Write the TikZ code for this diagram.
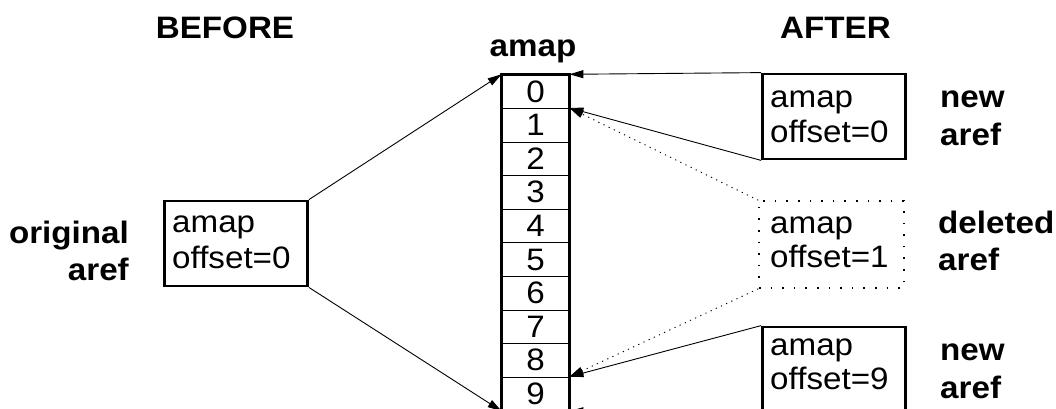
\documentclass[tikz,border=0pt]{standalone}
\usepackage{fontspec}
\setmainfont{Liberation Sans}[FakeStretch=1.07]
\usetikzlibrary{arrows.meta}

\begin{document}
\begin{tikzpicture}[x=1pt,y=-1pt,
  txt/.style={font=\fontsize{31}{35}\selectfont, inner sep=0pt, anchor=base west},
  lbl/.style={font=\fontsize{31}{38}\selectfont\bfseries, inner sep=0pt},
  cell/.style={draw, line width=0.8pt, minimum width=67pt, minimum height=33.6pt,
    inner sep=0pt, anchor=north, font=\fontsize{31}{35}\selectfont},
  refbox/.style={draw, line width=2.8pt, minimum width=143pt, minimum height=85pt, inner sep=0pt},
  delbox/.style={draw, line width=1.6pt, dash pattern=on 1.6pt off 10pt,
    minimum width=145pt, minimum height=87pt, inner sep=0pt},
  ptr/.style={-{Triangle[length=14pt,width=8pt]}, line width=0.9pt},
  dptr/.style={ptr, dash pattern=on 1.2pt off 4.5pt}
]
\useasboundingbox (0,0) rectangle (1056,408);

% headings
\node[lbl, anchor=base] (before) at (225,38) {BEFORE};
\node[lbl, anchor=base] (after) at (835.5,38) {AFTER};
\node[lbl, anchor=base] (amaptitle) at (533,56) {amap};

% the amap array
\foreach \i in {0,...,9}
  \node[cell] (c\i) at (535.5,{74.3+33.6*\i}) {\i};
\draw[line width=2.8pt] (c0.north west) rectangle (c9.south east);

% original aref
\node[refbox] (orig) at (236,243.5) {};
\node[txt] (origa) at (172,232) {amap};
\node[txt] (origo) at (172,268) {offset=0};
\node[lbl, anchor=base east] (origl1) at (129,243) {original};
\node[lbl, anchor=base east] (origl2) at (129,280) {aref};

% new aref, offset 0
\node[refbox] (nb1) at (834,116.5) {};
\node[txt] (nb1a) at (770,107) {amap};
\node[txt] (nb1o) at (770,142) {offset=0};
\node[lbl, anchor=base west] (nb1l1) at (940,107) {new};
\node[lbl, anchor=base west] (nb1l2) at (940,145) {aref};

% deleted aref
\node[delbox] (del) at (831.5,244.5) {};
\node[txt] (dela) at (770,233) {amap};
\node[txt] (delo) at (770,267) {offset=1};
\node[lbl, anchor=base west] (dell1) at (938,233) {deleted};
\node[lbl, anchor=base west] (dell2) at (938,270) {aref};

% new aref, offset 9
\node[refbox] (nb2) at (834,369.5) {};
\node[txt] (nb2a) at (770,355) {amap};
\node[txt] (nb2o) at (770,389) {offset=9};
\node[lbl, anchor=base west] (nb2l1) at (940,360) {new};
\node[lbl, anchor=base west] (nb2l2) at (940,398) {aref};

% pointers into the array
\draw[ptr] (orig.north east) -- (c0.north west);
\draw[ptr] (orig.south east) -- (c9.south west);
\draw[ptr] (nb1.north west) -- (c0.north east);
\draw[ptr] (nb1.south west) -- (c1.north east);
\draw[dptr] (del.north west) -- (c1.north east);
\draw[dptr] (del.south west) -- (c9.north east);
\draw[ptr] (nb2.north west) -- (c9.north east);
\draw[ptr] (nb2.south west) -- (c9.south east);
\end{tikzpicture}
\end{document}
